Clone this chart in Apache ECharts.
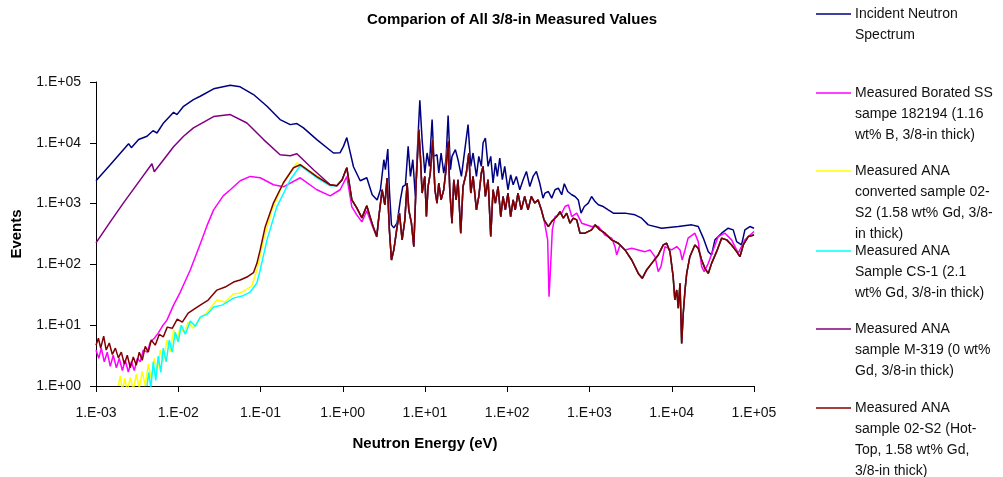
<!DOCTYPE html>
<html>
<head>
<meta charset="utf-8">
<script src="https://cdn.jsdelivr.net/npm/echarts@6.0.0/dist/echarts.min.js"></script>
<style>
  html, body { margin: 0; padding: 0; background: #fff; }
  #chart { width: 1003px; height: 477px; }
</style>
</head>
<body>
<div id="chart"></div>
<script>
// [energy eV, events]
const incident = [
  [0.001, 2380], [0.00149, 4360], [0.00249, 9680], [0.00269, 8320], [0.0033, 11300],
  [0.00417, 12800], [0.00493, 15800], [0.00551, 14500], [0.00663, 21200], [0.00877, 31800],
  [0.00964, 29100], [0.0116, 39900], [0.0153, 51400], [0.0185, 58300], [0.0269, 77300],
  [0.0429, 88500], [0.0566, 83400], [0.0822, 62200], [0.12, 39900], [0.173, 24100],
  [0.23, 19900], [0.277, 20700], [0.333, 17600], [0.484, 11300], [0.771, 6800],
  [0.929, 6880], [1.02, 8730], [1.12, 12200], [1.35, 4040], [1.63, 2380], [1.96, 2660],
  [2.28, 1400], [2.62, 1150], [2.87, 1690], [3.16, 5270], [3.3, 3610], [3.53, 7910],
  [3.69, 1690], [3.91, 447], [4.18, 399], [4.58, 482], [5.02, 1150], [5.37, 1910],
  [5.78, 2040], [6.24, 8730], [6.65, 2800], [7.11, 5270], [7.64, 1310], [8.18, 10600],
  [8.65, 50100], [9.22, 11300], [9.95, 3180], [10.6, 6800], [11.3, 4090], [12.2, 24100],
  [12.8, 5970], [14.0, 6370], [14.7, 3180], [15.7, 6800], [16.9, 3180], [18.0, 5270],
  [19.1, 28000], [20.4, 3610], [21.3, 5970], [23.4, 7710], [25.2, 5270], [27.7, 2800],
  [30.5, 7710], [33.4, 19900], [36.0, 4090], [38.4, 6800], [42.2, 2800], [45.1, 5970],
  [48.4, 4090], [50.8, 9930], [54.2, 12000], [58.5, 4090], [63.0, 5970], [67.2, 2180],
  [71.7, 4650], [75.8, 2800], [81.1, 5620], [87.2, 2470], [93.2, 4090], [102, 1690],
  [110, 2980], [118, 2040], [129, 2800], [142, 1690], [156, 2470], [171, 3380],
  [188, 1910], [206, 2800], [226, 3380], [248, 2180], [272, 1230], [288, 1490],
  [316, 1580], [347, 1230], [381, 1690], [418, 1800], [459, 1400], [494, 2120],
  [543, 1580], [608, 1400], [667, 1310], [731, 1150], [789, 697], [865, 895],
  [967, 1020], [1060, 1310], [1170, 1080], [1280, 955], [1470, 895], [1690, 789],
  [1950, 697], [2700, 697], [3570, 653], [4310, 576], [5180, 447], [7540, 394],
  [12000, 419], [17500, 447], [21000, 419], [24200, 271], [27800, 162], [30500, 143],
  [33500, 253], [40400, 326], [48500, 394], [55900, 370], [61500, 237], [70600, 209],
  [77500, 370], [89100, 419], [100000, 394]
];

const boratedLow = [
  [0.001, 3.9], [0.00108, 2.85], [0.00116, 4.2], [0.00126, 2.5], [0.00137, 3.6],
  [0.00149, 2.1], [0.00162, 3.2], [0.00177, 2.0], [0.00192, 2.85], [0.00209, 1.8],
  [0.00227, 2.65], [0.00247, 1.7], [0.00269, 2.5], [0.00292, 1.8], [0.00318, 2.85],
  [0.00345, 2.5], [0.00376, 3.9], [0.0042, 3.6], [0.00457, 5.3], [0.00511, 6.1],
  [0.00571, 7.4], [0.00639, 9.6], [0.00729, 12.1], [0.00877, 21.4], [0.0106, 35.1],
  [0.0128, 62], [0.014, 80.9], [0.0185, 217], [0.0223, 430], [0.0269, 789],
  [0.0352, 1340], [0.0429, 1690], [0.0567, 2380], [0.075, 2800], [0.0991, 2660],
  [0.144, 2040], [0.19, 1890], [0.304, 2660], [0.484, 1690], [0.703, 1340],
  [0.929, 1690], [1.12, 2770], [1.29, 885], [1.48, 653], [1.71, 500], [1.96, 760],
  [2.26, 447], [2.59, 283]
];

const boratedHigh = [
  [310, 253], [322, 29.4], [338, 104], [353, 370], [381, 612], [459, 697], [504, 895],
  [553, 955], [608, 612], [699, 697], [804, 476], [1060, 419], [1280, 419], [1540, 305],
  [1860, 271], [2040, 196], [2140, 143], [2350, 209], [2700, 173], [3260, 184],
  [3920, 173], [4720, 162], [5440, 173], [6250, 134], [6850, 76], [7390, 92],
  [8260, 196], [9970, 173], [11500, 196], [12600, 173], [13400, 118], [14500, 173],
  [15800, 271], [19100, 326], [21000, 237], [23100, 92], [24800, 76], [27800, 104],
  [31900, 173], [36700, 287], [44300, 326], [53400, 253], [64300, 153], [77500, 253],
  [100000, 347]
];

const convertedLow = [
  [0.00187, 1.0], [0.00197, 1.45], [0.00209, 0.85], [0.00224, 1.34], [0.0024, 0.82],
  [0.00261, 1.39], [0.00284, 0.85], [0.00309, 1.56], [0.00336, 0.92], [0.00365, 1.75],
  [0.00397, 1.0], [0.00432, 2.3], [0.0047, 1.34], [0.00511, 2.85], [0.00556, 1.8],
  [0.00604, 3.9], [0.00657, 2.5], [0.00729, 5.7], [0.008, 3.6], [0.00877, 8.3],
  [0.00972, 5.7], [0.0106, 9.6], [0.0118, 7.4], [0.0132, 11.2], [0.0152, 8.9],
  [0.0185, 13.1], [0.0225, 16.4], [0.0295, 25.9], [0.0372, 24.0], [0.0466, 32.5],
  [0.0566, 33.8], [0.0684, 39.3], [0.0785, 44.1], [0.0904, 80.9], [0.109, 253],
  [0.138, 789], [0.19, 2200], [0.277, 4700], [0.484, 2870], [0.703, 2040]
];

const cs1Low = [
  [0.00417, 1.0], [0.00438, 1.68], [0.00464, 0.92], [0.00497, 2.5], [0.00533, 1.24],
  [0.00571, 3.1], [0.00613, 1.68], [0.00657, 4.2], [0.00714, 2.5], [0.00777, 5.7],
  [0.00845, 3.6], [0.0092, 7.7], [0.01, 5.3], [0.0109, 10.0], [0.0122, 7.1],
  [0.014, 11.7], [0.0161, 9.6], [0.0185, 13.6], [0.0225, 15.2], [0.0269, 19.9],
  [0.0342, 21.4], [0.047, 27.9], [0.0599, 30.1], [0.075, 35.1], [0.0904, 49.4],
  [0.0991, 80.9], [0.12, 253], [0.158, 885], [0.23, 2470], [0.304, 4200],
  [0.484, 2660], [0.703, 1960]
];

const m319Low = [
  [0.001, 226], [0.00149, 500], [0.00216, 1030], [0.00345, 2460], [0.00479, 4530],
  [0.00511, 3340], [0.00663, 5270], [0.00877, 8630], [0.0116, 12800], [0.0153, 17600],
  [0.0269, 27000], [0.0429, 29100], [0.0684, 21200], [0.109, 11300], [0.173, 6370],
  [0.23, 6140], [0.277, 6620], [0.441, 3610], [0.703, 2040]
];

const hotTopLow = [
  [0.001, 4.7], [0.00107, 6.1], [0.00114, 4.2], [0.00124, 6.6], [0.00133, 3.9],
  [0.00145, 5.1], [0.00158, 3.3], [0.00172, 4.2], [0.00187, 2.9], [0.00203, 3.6],
  [0.00221, 2.3], [0.0024, 3.2], [0.00261, 2.0], [0.00284, 3.0], [0.00309, 2.2],
  [0.00336, 3.6], [0.00365, 2.65], [0.00397, 4.5], [0.00432, 3.6], [0.0047, 5.7],
  [0.00525, 4.7], [0.00588, 7.1], [0.00657, 6.4], [0.00735, 9.3], [0.00845, 8.9],
  [0.00972, 12.6], [0.0112, 11.2], [0.0132, 15.8], [0.0156, 18.4], [0.0185, 21.4],
  [0.0231, 25.9], [0.0295, 37.8], [0.0372, 42.4], [0.047, 51.3], [0.0566, 55.3],
  [0.0684, 62], [0.0822, 73], [0.0904, 104], [0.0991, 173], [0.114, 414],
  [0.144, 1030], [0.19, 2200], [0.252, 3890], [0.304, 4360], [0.484, 2770], [0.703, 2040]
];

// the Gd / M-319 curves lie on top of each other from ~0.8 eV up
const gdEpithermal = [
  [0.847, 1960], [0.984, 2470], [1.07, 3340], [1.12, 3890], [1.29, 1150], [1.48, 851],
  [1.71, 583], [1.87, 789], [1.96, 919], [2.15, 605], [2.37, 399], [2.59, 287]
];

const resonance = [
  [2.75, 612], [3.01, 1690], [3.25, 955], [3.46, 2630], [3.69, 370], [3.91, 118],
  [4.18, 173], [4.58, 419], [4.89, 697], [5.27, 253], [5.69, 540], [6.06, 2180],
  [6.35, 789], [6.84, 476], [7.31, 196], [7.8, 2180], [8.41, 16500], [8.79, 5970],
  [9.22, 1490], [9.95, 2800], [10.4, 612], [10.9, 1910], [11.6, 3180], [12.4, 11300],
  [13.2, 1690], [14.0, 1020], [14.7, 2180], [15.7, 1150], [16.9, 1690], [18.0, 3610],
  [19.1, 10600], [20.0, 1690], [21.3, 476], [22.4, 2470], [23.9, 1150], [25.2, 2470],
  [27.2, 326], [29.0, 1910], [31.8, 3180], [34.1, 6800], [36.0, 1490], [38.4, 2800],
  [42.2, 789], [45.1, 1310], [48.4, 3180], [50.8, 4090], [54.2, 1310], [58.5, 2470],
  [63.0, 287], [67.2, 1690], [71.7, 1020], [77.3, 1910], [83.4, 612], [88.9, 1310],
  [94.8, 789], [102, 1490], [110, 612], [118, 1150], [125, 789], [135, 1490],
  [148, 789], [163, 1310], [179, 789], [196, 1310], [216, 1020], [237, 1150],
  [260, 789], [280, 540]
];

const gdHigh = [
  [316, 419], [347, 506], [400, 612], [438, 740], [481, 576], [528, 697], [579, 476],
  [635, 576], [699, 540], [767, 326], [882, 326], [1060, 370], [1170, 447], [1340, 370],
  [1540, 326], [1860, 253], [2240, 223], [2700, 173], [3260, 118], [3920, 71],
  [4380, 59], [4950, 81], [5700, 104], [6850, 143], [7890, 209], [8670, 223],
  [9510, 162], [10400, 63], [10900, 26], [11500, 38], [12000, 19], [12600, 49],
  [13200, 5], [13800, 15.6], [14500, 38], [15200, 71], [16600, 134], [19100, 209],
  [21000, 184], [23100, 118], [25300, 86], [27800, 71], [30500, 104], [35100, 162],
  [40400, 270], [46500, 253], [53400, 209], [61500, 162], [67400, 134], [74000, 209],
  [85100, 287], [100000, 305]
];

const seriesNames = [
  ['Incident Neutron', 'Spectrum'],
  ['Measured Borated SS', 'sampe 182194 (1.16', 'wt% B, 3/8-in thick)'],
  ['Measured ANA', 'converted sample 02-', 'S2 (1.58 wt% Gd, 3/8-', 'in thick)'],
  ['Measured ANA', 'Sample CS-1 (2.1', 'wt% Gd, 3/8-in thick)'],
  ['Measured ANA', 'sample M-319 (0 wt%', 'Gd, 3/8-in thick)'],
  ['Measured ANA', 'sample 02-S2 (Hot-', 'Top, 1.58 wt% Gd,', '3/8-in thick)']
];
const seriesColors = ['#000080', '#ff00ff', '#ffff00', '#00ffff', '#800080', '#800000'];
const xTickLabels = ['1.E-03', '1.E-02', '1.E-01', '1.E+00', '1.E+01', '1.E+02', '1.E+03', '1.E+04', '1.E+05'];
const yTickLabels = ['1.E+00', '1.E+01', '1.E+02', '1.E+03', '1.E+04', '1.E+05'];

const seriesData = [
  incident,
  boratedLow.concat(resonance, boratedHigh),
  convertedLow.concat(gdEpithermal, resonance, gdHigh),
  cs1Low.concat(gdEpithermal, resonance, gdHigh),
  m319Low.concat(gdEpithermal, resonance, gdHigh),
  hotTopLow.concat(gdEpithermal, resonance, gdHigh)
];

const FONT = '"Liberation Sans", Arial, sans-serif';
const legendTop = [14, 93, 171, 251, 329, 408];

const chart = echarts.init(document.getElementById('chart'));

const legendGraphics = [];
seriesNames.forEach((lines, i) => {
  legendGraphics.push({
    type: 'line',
    shape: { x1: 816, y1: legendTop[i], x2: 851, y2: legendTop[i] },
    style: { stroke: seriesColors[i], lineWidth: 1.5 }
  });
  legendGraphics.push({
    type: 'text',
    x: 855,
    y: legendTop[i] - 10.5,
    style: {
      text: lines.join('\n'),
      font: '14px ' + FONT,
      fill: '#111',
      lineHeight: 21,
      verticalAlign: 'top'
    }
  });
});

const option = {
  animation: false,
  backgroundColor: '#fff',
  title: {
    text: 'Comparion of All 3/8-in Measured Values',
    left: 367,
    top: 12,
    padding: 0,
    textStyle: { fontFamily: FONT, fontSize: 15, fontWeight: 'bold', color: '#000' }
  },
  grid: { left: 96, right: 249, top: 82, bottom: 91, outerBoundsMode: 'none' },
  xAxis: {
    type: 'log',
    logBase: 10,
    min: 0.001,
    max: 100000,
    splitNumber: 8,
    name: 'Neutron Energy (eV)',
    nameLocation: 'middle',
    nameGap: 50,
    nameTextStyle: { fontFamily: FONT, fontSize: 15, fontWeight: 'bold', color: '#000' },
    axisLine: { show: true, lineStyle: { color: '#000', width: 1 } },
    axisTick: { show: true, inside: false, length: 6, lineStyle: { color: '#000' } },
    minorTick: { show: false },
    splitLine: { show: false },
    axisLabel: {
      margin: 20,
      showMinLabel: true,
      showMaxLabel: true,
      fontFamily: FONT,
      fontSize: 14,
      color: '#111',
      formatter: v => xTickLabels[Math.round(Math.log10(v)) + 3]
    }
  },
  yAxis: {
    type: 'log',
    logBase: 10,
    min: 1,
    max: 100000,
    splitNumber: 5,
    name: 'Events',
    nameLocation: 'middle',
    nameGap: 72,
    nameTextStyle: { fontFamily: FONT, fontSize: 15, fontWeight: 'bold', color: '#000' },
    axisLine: { show: true, lineStyle: { color: '#000', width: 1 } },
    axisTick: { show: true, inside: false, length: 6, lineStyle: { color: '#000' } },
    minorTick: { show: false },
    splitLine: { show: false },
    axisLabel: {
      margin: 15,
      showMinLabel: true,
      showMaxLabel: true,
      fontFamily: FONT,
      fontSize: 14,
      color: '#111',
      formatter: v => yTickLabels[Math.round(Math.log10(v))]
    }
  },
  series: seriesData.map((data, i) => ({
    name: seriesNames[i].join(' '),
    type: 'line',
    data: data,
    showSymbol: false,
    symbol: 'none',
    clip: true,
    lineStyle: { color: seriesColors[i], width: 1.5 },
    itemStyle: { color: seriesColors[i] },
    emphasis: { disabled: true }
  })),
  graphic: legendGraphics
};

chart.setOption(option);
</script>
</body>
</html>
